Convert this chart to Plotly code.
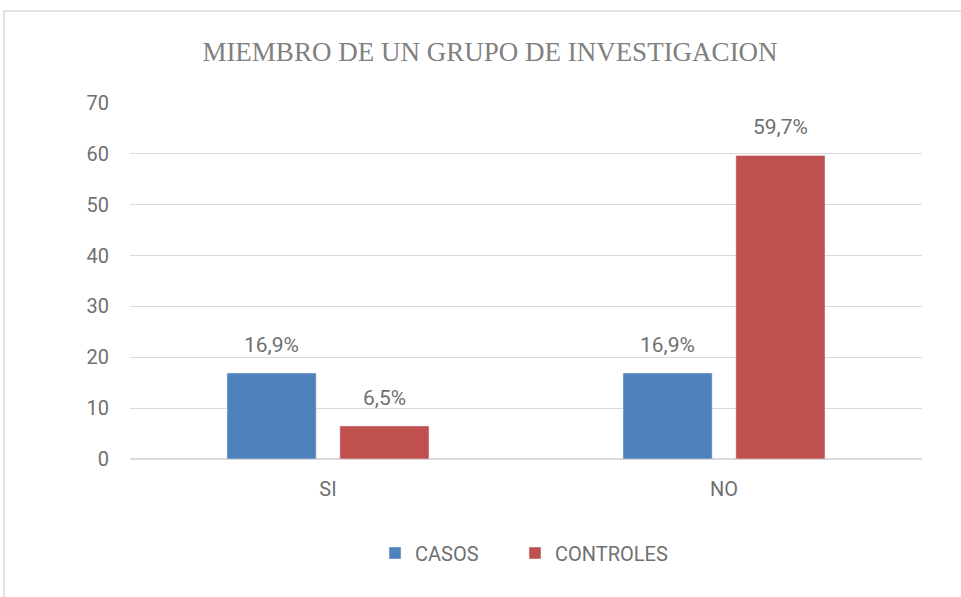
import plotly.graph_objects as go

categories = ["SI", "NO"]
casos = [16.9, 16.9]
controles = [6.5, 59.7]
casos_labels = ["16,9%", "16,9%"]
controles_labels = ["6,5%", "59,7%"]
y_ticks = [0, 10, 20, 30, 40, 50, 60, 70]

gray = "#707070"
font_sans = "Roboto, Liberation Sans, sans-serif"

W, H = 961, 597
L, R, T, B = 130, W - 922, 103, H - 459
PW, PH = W - L - R, H - T - B

fig = go.Figure()
fig.add_trace(go.Bar(name="CASOS", x=categories, y=casos, marker_color="#4F81BD",
                     legend="legend"))
fig.add_trace(go.Bar(name="CONTROLES", x=categories, y=controles, marker_color="#C0504D",
                     legend="legend2"))

slot = PW / 2 * (1 - 0.43) / 2
for series, labels, sign in [(casos, casos_labels, -1), (controles, controles_labels, 1)]:
    for cat, val, lab in zip(categories, series, labels):
        fig.add_annotation(x=cat, y=val, text=lab, showarrow=False, xref="x", yref="y",
                           xshift=sign * slot / 2, yshift=14, yanchor="bottom",
                           font=dict(size=21, color=gray, family=font_sans))

leg_common = dict(orientation="h", yanchor="middle", y=-(553 - 459) / PH, xanchor="left",
                  font=dict(size=20, color=gray), itemwidth=30, bgcolor="rgba(0,0,0,0)")

fig.update_layout(
    width=W, height=H,
    margin=dict(l=L, r=R, t=T, b=B),
    paper_bgcolor="white", plot_bgcolor="white",
    barmode="group", bargap=0.43, bargroupgap=0.21,
    title=dict(text="MIEMBRO DE UN GRUPO DE INVESTIGACION", x=490 / W, xanchor="center",
               y=1 - 52 / H, yanchor="middle",
               font=dict(family="Liberation Serif, DejaVu Serif, serif", size=27, color="#808080")),
    font=dict(family=font_sans, color=gray, size=20),
    legend=dict(x=(375 - L) / PW, **leg_common),
    legend2=dict(x=(515 - L) / PW, **leg_common),
    showlegend=True,
)
fig.update_yaxes(range=[0, 70], tickvals=y_ticks, showgrid=True, gridcolor="#D9D9D9",
                 gridwidth=1, zeroline=True, zerolinecolor="#D9D9D9", showline=False,
                 tickfont=dict(size=20, color=gray), ticks="", ticklabelstandoff=20)
fig.update_xaxes(showline=False, tickfont=dict(size=20, color=gray), ticks="",
                 ticklabelstandoff=16)

fig.add_shape(type="rect", xref="paper", yref="paper",
              x0=(4 - L) / PW, x1=(W + 20 - L) / PW,
              y0=-(H - 459 + 20) / PH, y1=(459 - 11) / PH,
              line=dict(color="#D9D9D9", width=1.5), fillcolor="rgba(0,0,0,0)", layer="below")

fig.write_html("out.html", config={"displayModeBar": False},
               post_script="document.body.style.margin='0px';")
